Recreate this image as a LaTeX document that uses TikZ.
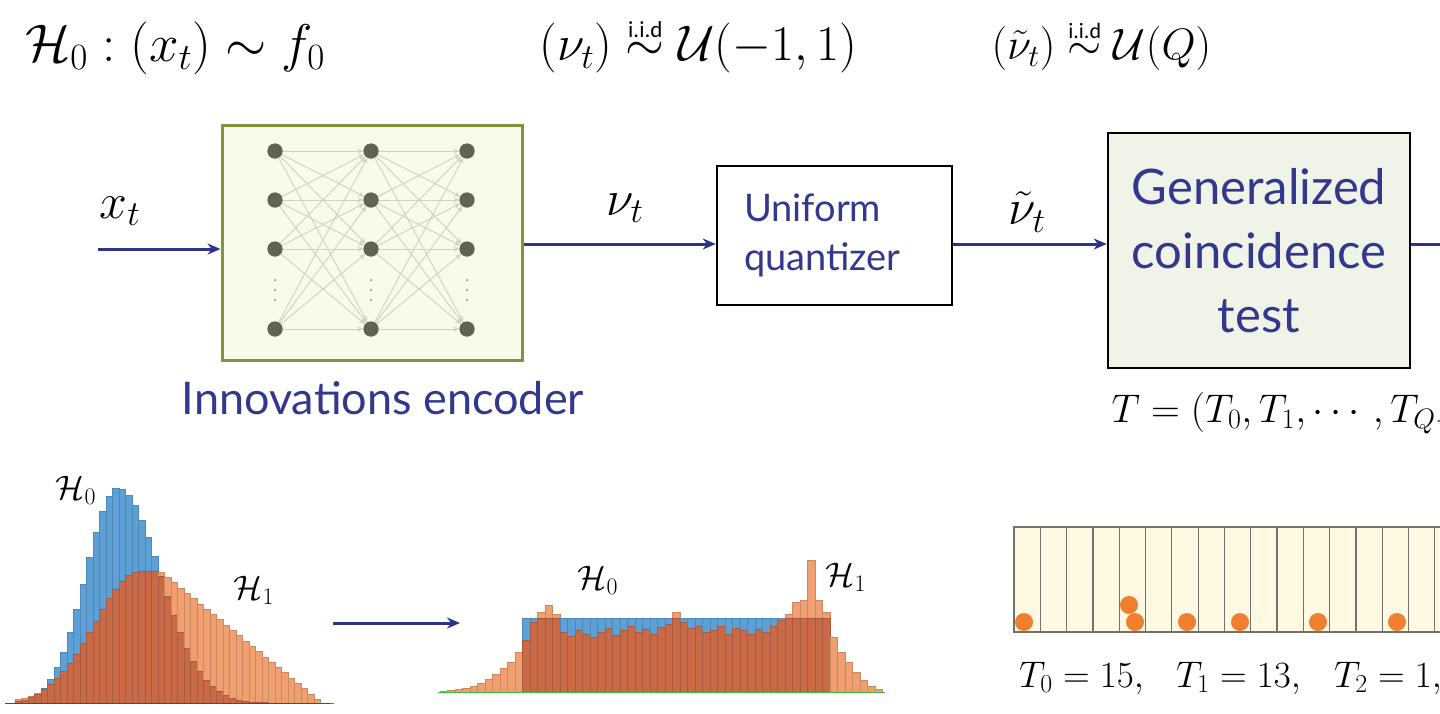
\RequirePackage{fix-cm}
\documentclass[tikz,border=0pt]{standalone}
\usepackage{amsmath}
\usepackage{fontspec}
\newfontfamily\boxfont{Lato}
\newfontfamily\iidfont{Carlito}
\usetikzlibrary{arrows.meta}
\definecolor{navy}{RGB}{45,50,140}
\definecolor{txtnavy}{RGB}{50,56,142}
\definecolor{olive}{RGB}{128,150,60}
\definecolor{encfill}{RGB}{250,250,234}
\definecolor{genfill}{RGB}{240,243,232}
\definecolor{nngray}{RGB}{98,98,82}
\definecolor{nnline}{RGB}{206,210,190}
\definecolor{binfill}{RGB}{255,248,226}
\definecolor{binline}{RGB}{115,115,105}
\definecolor{dotor}{RGB}{240,128,48}
\definecolor{hblue}{RGB}{92,160,214}
\definecolor{hsalmon}{RGB}{240,160,112}
\definecolor{hbrown}{RGB}{200,106,72}
\newcommand{\iidsim}[1]{\overset{\text{\iidfont\fontsize{#1}{#1}\selectfont i.i.d}}{\sim}}
\tikzset{
  flow/.style={draw=navy, line width=3pt, -{Stealth[length=13pt,width=11pt]}},
  boxtxt/.style={text=txtnavy, font=\boxfont\fontsize{38}{49}\selectfont},
  gentxt/.style={text=txtnavy, font=\boxfont\fontsize{49}{64}\selectfont, align=center},
  mathbig/.style={font=\fontsize{50}{58}\selectfont},
  mathmid/.style={font=\fontsize{40}{48}\selectfont},
  mathsm/.style={font=\fontsize{37}{44}\selectfont, inner sep=0pt, anchor=west},
  nnnode/.style={circle, fill=nngray, minimum size=15pt, inner sep=0pt},
  nnedge/.style={draw=nnline, line width=0.9pt, -{Stealth[length=6pt,width=5pt]}},
  nndot/.style={circle, fill=nngray!60, minimum size=2.5pt, inner sep=0pt},
  barb/.style={fill=hblue, draw=hblue!85!black, line width=0.4pt},
  bars/.style={fill=hsalmon, draw=hsalmon!85!black, line width=0.4pt},
  barr/.style={fill=hbrown, draw=hbrown!85!black, line width=0.4pt},
  hlabel/.style={font=\fontsize{34}{40}\selectfont},
  bindot/.style={circle, fill=dotor, minimum size=18pt, inner sep=0pt},
}
\begin{document}
\begin{tikzpicture}[x=1pt,y=-1pt]
\path[use as bounding box, fill=white] (0,0) rectangle (1440,713);
\clip (0,0) rectangle (1440,713);

% top formulas
\node[anchor=west, font=\fontsize{53}{60}\selectfont] (f1) at (22,48) {$\mathcal{H}_0:(x_t)\sim f_0$};
\node[mathbig, anchor=west] (f2) at (536,46) {$(\nu_t)\iidsim{23}\mathcal{U}(-1,1)$};
\node[anchor=west, font=\fontsize{44}{52}\selectfont] (f3) at (988,46) {$(\tilde{\nu}_t)\iidsim{22}\mathcal{U}(Q)$};

% encoder
\node[draw=olive, line width=3pt, fill=encfill, minimum width=300pt, minimum height=235pt, inner sep=0pt] (enc) at (372,242.5) {};
\foreach \c/\cx in {1/275,2/371,3/467}{
  \foreach \r/\ry in {1/151,2/200,3/249,4/329}{
    \node[nnnode] (n-\c-\r) at (\cx,\ry) {};
  }
  \foreach \dy [count=\k] in {280,290,300}{
    \node[nndot] (d-\c-\k) at (\cx,\dy) {};
  }
}
\foreach \a in {1,2,3,4}{
  \foreach \b in {1,2,3,4}{
    \draw[nnedge] (n-1-\a) -- (n-2-\b);
    \draw[nnedge] (n-2-\a) -- (n-3-\b);
  }
}
\foreach \c in {1,2,3}{\foreach \r in {1,2,3,4}{\node[nnnode] at (n-\c-\r) {};}}
\node[boxtxt, font=\boxfont\fontsize{45}{52}\selectfont] (enclbl) at (383,398) {Innovations encoder};

% quantizer
\node[draw=black, line width=2.5pt, fill=white, minimum height=139pt, text width=181pt, inner xsep=27pt, align=left, boxtxt] (quant) at (834.5,235.5) {Uniform\\quantizer};

% generalized coincidence test
\node[draw=black, line width=2.5pt, fill=genfill, minimum width=302pt, minimum height=235pt, inner sep=0pt, gentxt] (gen) at (1259,250.5) {Generalized\\coincidence\\test};

% connectors
\coordinate (xin) at (98,249);
\coordinate (lev) at (0,244);
\coordinate (outend) at (1480,244);
\draw[flow] (xin) -- (xin -| enc.west);
\draw[flow] (enc.east |- lev) -- (quant.west |- lev);
\draw[flow] (quant.east |- lev) -- (gen.west |- lev);
\draw[draw=navy, line width=3pt] (gen.east |- lev) -- (outend);

\node[mathbig] (lx) at (120,211) {$x_t$};
\node[mathbig] (lnu) at (625,208) {$\nu_t$};
\node[mathbig] (lnut) at (1027,212) {$\tilde{\nu}_t$};

\node[mathmid, anchor=west] (Tvec) at (1108,413) {$T=(T_0,T_1,\cdots,T_{Q-1})$};

% left histogram
\foreach \i in {0,...,48}{
  \pgfmathsetmacro\xa{15+6.5*\i}
  \pgfmathsetmacro\xc{\xa+3.25}
  \pgfmathsetmacro\hb{\xc<118 ? 215*exp(-0.5*((\xc-118)/32)^2) : 215*exp(-0.5*((\xc-118)/42)^2)}
  \pgfmathsetmacro\ho{\xc<140 ? 132*exp(-0.5*((\xc-140)/45)^2) : (\xc<160 ? 132 : max(0,132*(1-(\xc-160)/162)))}
  \pgfmathsetmacro\hm{min(\hb,\ho)}
  \path[barb] (\xa,703) rectangle ++(6.5,-\hb);
  \path[bars] (\xa,703) rectangle ++(6.5,-\ho);
  \path[barr] (\xa,703) rectangle ++(6.5,-\hm);
}
\draw[black!70, line width=0.8pt] (5,703) -- (330,703);
\node[hlabel] (lh0) at (76,490) {$\mathcal{H}_0$};
\node[hlabel] (lh1) at (254,590) {$\mathcal{H}_1$};

\coordinate (h1r) at (333,623);
\coordinate (h2l) at (460,623);
\draw[flow] (h1r) -- (h2l);

% right histogram
\foreach \h [count=\i from 0] in {1,2,3,4,6,9,13,18,24,30,40,52,70,80,87,78,60,56,62,58,55,60,64,57,62,66,60,63,58,65,68,80,70,64,66,60,62,66,58,64,62,58,63,60,66,72,78,90,92,132,92,80,55,40,30,20,12,6,3}{
  \pgfmathsetmacro\xa{440+7.5*\i}
  \pgfmathsetmacro\hb{and(\i>10,\i<52) ? 74 : 0}
  \pgfmathsetmacro\hm{min(\hb,\h)}
  \path[barb] (\xa,692) rectangle ++(7.5,-\hb);
  \path[bars] (\xa,692) rectangle ++(7.5,-\h);
  \path[barr] (\xa,692) rectangle ++(7.5,-\hm);
}
\draw[green!50!gray, line width=0.8pt] (438,692) -- (885,692);
\node[hlabel] (rh0) at (598,580) {$\mathcal{H}_0$};
\node[hlabel] (rh1) at (846,577) {$\mathcal{H}_1$};

% bins
\path[fill=binfill, draw=binline, line width=1.2pt] (1014,527) rectangle (1480,632);
\foreach \k in {1,...,17}{
  \draw[binline, line width=1.2pt] (1014+26.3*\k,527) -- (1014+26.3*\k,632);
}
\foreach \px/\py [count=\j] in {1024/622,1129/605,1135/622,1187/622,1240/622,1318/622,1397/622}{
  \node[bindot] (dot\j) at (\px,\py) {};
}
\node[mathsm] (Tv0) at (1019,678) {$T_0=15,$};
\node[mathsm] (Tv1) at (1176,678) {$T_1=13,$};
\node[mathsm] (Tv2) at (1334,678) {$T_2=1,$};
\end{tikzpicture}
\end{document}
